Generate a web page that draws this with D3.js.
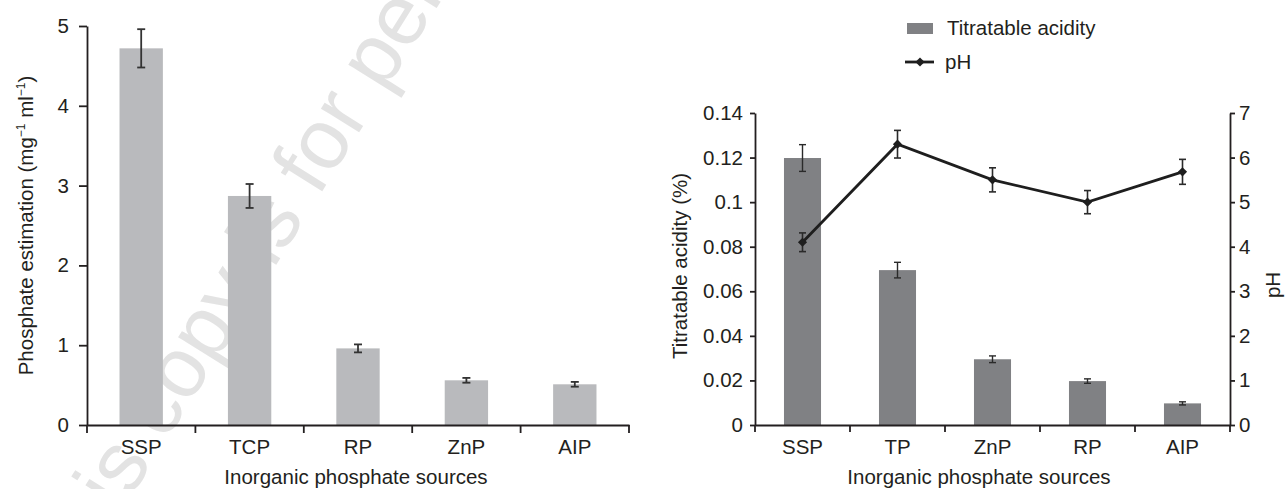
<!DOCTYPE html>
<html>
<head>
<meta charset="utf-8">
<script src="https://cdn.jsdelivr.net/npm/d3@7"></script>
<style>
  html, body { margin: 0; padding: 0; background: #fff; }
  svg { display: block; }
  text { font-family: "Liberation Sans", Arial, Helvetica, sans-serif; fill: #231f20; }
</style>
</head>
<body>
<svg id="chart" width="1286" height="489"></svg>
<script>
// ---------- data ----------
const leftCategories = ["SSP", "TCP", "RP", "ZnP", "AIP"];
const phosphateValues = [4.72, 2.87, 0.96, 0.56, 0.51];
const phosphateErrors = [0.24, 0.15, 0.05, 0.03, 0.03];
const leftTicks = [0, 1, 2, 3, 4, 5];

const rightCategories = ["SSP", "TP", "ZnP", "RP", "AIP"];
const acidityValues = [0.1198, 0.0695, 0.0295, 0.0197, 0.0097];
const acidityErrors = [0.006, 0.0035, 0.0015, 0.001, 0.0007];
const phValues = [4.1, 6.3, 5.5, 5.0, 5.68];
const phErrors = [0.21, 0.31, 0.27, 0.26, 0.28];
const acidityTicks = [0, 0.02, 0.04, 0.06, 0.08, 0.1, 0.12, 0.14];
const phTicks = [0, 1, 2, 3, 4, 5, 6, 7];

const xTitle = "Inorganic phosphate sources";
const legendLabels = ["Titratable acidity", "pH"];
const watermarkText = "This copy is for personal use only";

// ---------- styling ----------
const ink = "#231f20";
const fontSize = 20.5;
const svg = d3.select("#chart");

// watermark (behind everything)
svg.append("text")
  .attr("transform", "translate(68,598) rotate(-58)")
  .style("font-size", "85px")
  .style("fill", "#e3e3e3")
  .text(watermarkText);

function styleAxis(g) {
  g.selectAll("path.domain").attr("stroke", ink).attr("stroke-width", 1.8);
  g.selectAll(".tick line").attr("stroke", ink).attr("stroke-width", 1.8);
  g.selectAll(".tick text").style("font-size", fontSize + "px").style("font-family", '"Liberation Sans", Arial, sans-serif').attr("fill", ink);
}

// ================= LEFT CHART =================
const L = { x0: 87, x1: 629, yTop: 26, yBot: 425 };
const xL = d3.scaleBand().domain(leftCategories).range([L.x0, L.x1]).padding(0);
const yL = d3.scaleLinear().domain([0, 5]).range([L.yBot, L.yTop]);
const gL = svg.append("g");

const barWL = xL.bandwidth() * 0.4;
gL.selectAll("rect.bar").data(leftCategories).join("rect")
  .attr("x", d => xL(d) + (xL.bandwidth() - barWL) / 2)
  .attr("y", (d, i) => yL(phosphateValues[i]))
  .attr("width", barWL)
  .attr("height", (d, i) => yL(0) - yL(phosphateValues[i]))
  .attr("fill", "#b9babd");

// error bars
const capL = 4;
leftCategories.forEach((c, i) => {
  const cx = xL(c) + xL.bandwidth() / 2;
  const hi = yL(phosphateValues[i] + phosphateErrors[i]);
  const lo = yL(phosphateValues[i] - phosphateErrors[i]);
  const g = gL.append("g").attr("stroke", "#333").attr("stroke-width", 1.8);
  g.append("line").attr("x1", cx).attr("x2", cx).attr("y1", hi).attr("y2", lo);
  g.append("line").attr("x1", cx - capL).attr("x2", cx + capL).attr("y1", hi).attr("y2", hi);
  g.append("line").attr("x1", cx - capL).attr("x2", cx + capL).attr("y1", lo).attr("y2", lo);
});

// y axis
gL.append("g").attr("transform", `translate(${L.x0},0)`)
  .call(d3.axisLeft(yL).tickValues(leftTicks).tickSize(8).tickSizeOuter(0).tickPadding(10).tickFormat(d3.format("d")))
  .call(styleAxis);

// x axis (labels at centres, ticks at band edges)
const xAxL = gL.append("g").attr("transform", `translate(0,${L.yBot})`)
  .call(d3.axisBottom(xL).tickSize(0).tickSizeOuter(0).tickPadding(14))
  .call(styleAxis);
const edgesL = leftCategories.map(c => xL(c)).concat([L.x1]);
xAxL.selectAll("line.edge").data(edgesL).join("line")
  .attr("x1", d => d).attr("x2", d => d).attr("y1", 0).attr("y2", 8)
  .attr("stroke", ink).attr("stroke-width", 1.8);

// titles
gL.append("text")
  .attr("x", (L.x0 + L.x1) / 2 - 2).attr("y", 484)
  .attr("text-anchor", "middle").style("font-size", fontSize + "px")
  .text(xTitle);

const yTitleL = gL.append("text")
  .attr("transform", `translate(33,${(L.yTop + L.yBot) / 2}) rotate(-90)`)
  .attr("text-anchor", "middle").style("font-size", fontSize + "px");
yTitleL.append("tspan").text("Phosphate estimation (mg");
yTitleL.append("tspan").attr("dy", -8).style("font-size", "12px").text("\u22121");
yTitleL.append("tspan").attr("dy", 8).text(" ml");
yTitleL.append("tspan").attr("dy", -8).style("font-size", "12px").text("\u22121");
yTitleL.append("tspan").attr("dy", 8).text(")");

// ================= RIGHT CHART =================
const R = { x0: 755, x1: 1230, yTop: 113, yBot: 425 };
const xR = d3.scaleBand().domain(rightCategories).range([R.x0, R.x1]).padding(0);
const yR = d3.scaleLinear().domain([0, 0.14]).range([R.yBot, R.yTop]);
const yPH = d3.scaleLinear().domain([0, 7]).range([R.yBot, R.yTop]);
const gR = svg.append("g");

const barWR = xR.bandwidth() * 0.39;
gR.selectAll("rect.bar").data(rightCategories).join("rect")
  .attr("x", d => xR(d) + (xR.bandwidth() - barWR) / 2)
  .attr("y", (d, i) => yR(acidityValues[i]))
  .attr("width", barWR)
  .attr("height", (d, i) => yR(0) - yR(acidityValues[i]))
  .attr("fill", "#808184");

function errBar(g, cx, hi, lo, cap, w) {
  const e = g.append("g").attr("stroke", "#2a2a2a").attr("stroke-width", w);
  e.append("line").attr("x1", cx).attr("x2", cx).attr("y1", hi).attr("y2", lo);
  e.append("line").attr("x1", cx - cap).attr("x2", cx + cap).attr("y1", hi).attr("y2", hi);
  e.append("line").attr("x1", cx - cap).attr("x2", cx + cap).attr("y1", lo).attr("y2", lo);
}
rightCategories.forEach((c, i) => {
  const cx = xR(c) + xR.bandwidth() / 2;
  errBar(gR, cx, yR(acidityValues[i] + acidityErrors[i]), yR(acidityValues[i] - acidityErrors[i]), 3.5, 1.4);
});

// pH line
const cxR = c => xR(c) + xR.bandwidth() / 2;
const line = d3.line().x((d, i) => cxR(rightCategories[i])).y(d => yPH(d));
gR.append("path").datum(phValues).attr("d", line)
  .attr("fill", "none").attr("stroke", "#1e1e1e").attr("stroke-width", 2.8);
rightCategories.forEach((c, i) => {
  errBar(gR, cxR(c), yPH(phValues[i] + phErrors[i]), yPH(phValues[i] - phErrors[i]), 3.5, 1.6);
});
const diamond = d3.symbol().type(d3.symbolSquare).size(42);
gR.selectAll("path.marker").data(phValues).join("path")
  .attr("transform", (d, i) => `translate(${cxR(rightCategories[i])},${yPH(d)}) rotate(45)`)
  .attr("d", diamond).attr("fill", "#1e1e1e");

// axes
gR.append("g").attr("transform", `translate(${R.x0},0)`)
  .call(d3.axisLeft(yR).tickValues(acidityTicks).tickSize(5).tickSizeOuter(0).tickPadding(7)
    .tickFormat(d => String(+d.toFixed(2))))
  .call(styleAxis);
gR.append("g").attr("transform", `translate(${R.x1},0)`)
  .call(d3.axisRight(yPH).tickValues(phTicks).tickSize(5).tickSizeOuter(0).tickPadding(4).tickFormat(d3.format("d")))
  .call(styleAxis);
const xAxR = gR.append("g").attr("transform", `translate(0,${R.yBot})`)
  .call(d3.axisBottom(xR).tickSize(0).tickSizeOuter(0).tickPadding(14))
  .call(styleAxis);
const edgesR = rightCategories.map(c => xR(c)).concat([R.x1]);
xAxR.selectAll("line.edge").data(edgesR).join("line")
  .attr("x1", d => d).attr("x2", d => d).attr("y1", 0).attr("y2", 7)
  .attr("stroke", ink).attr("stroke-width", 1.8);

// titles
gR.append("text")
  .attr("x", 979).attr("y", 484)
  .attr("text-anchor", "middle").style("font-size", fontSize + "px")
  .text(xTitle);
gR.append("text")
  .attr("transform", `translate(687,${(R.yTop + R.yBot) / 2 - 3}) rotate(-90)`)
  .attr("text-anchor", "middle").style("font-size", fontSize + "px")
  .text("Titratable acidity (%)");
gR.append("text")
  .attr("transform", `translate(1280,285) rotate(-90)`)
  .attr("text-anchor", "middle").style("font-size", fontSize + "px")
  .text("pH");

// legend
const lg = svg.append("g");
lg.append("rect").attr("x", 907).attr("y", 23).attr("width", 26).attr("height", 11).attr("fill", "#808184");
lg.append("text").attr("x", 947).attr("y", 35).style("font-size", fontSize + "px").text(legendLabels[0]);
lg.append("line").attr("x1", 905).attr("x2", 934).attr("y1", 62).attr("y2", 62)
  .attr("stroke", "#1e1e1e").attr("stroke-width", 2.8);
lg.append("path").attr("transform", "translate(920,62) rotate(45)").attr("d", diamond).attr("fill", "#1e1e1e");
lg.append("text").attr("x", 945).attr("y", 69).style("font-size", fontSize + "px").text(legendLabels[1]);
</script>
</body>
</html>
